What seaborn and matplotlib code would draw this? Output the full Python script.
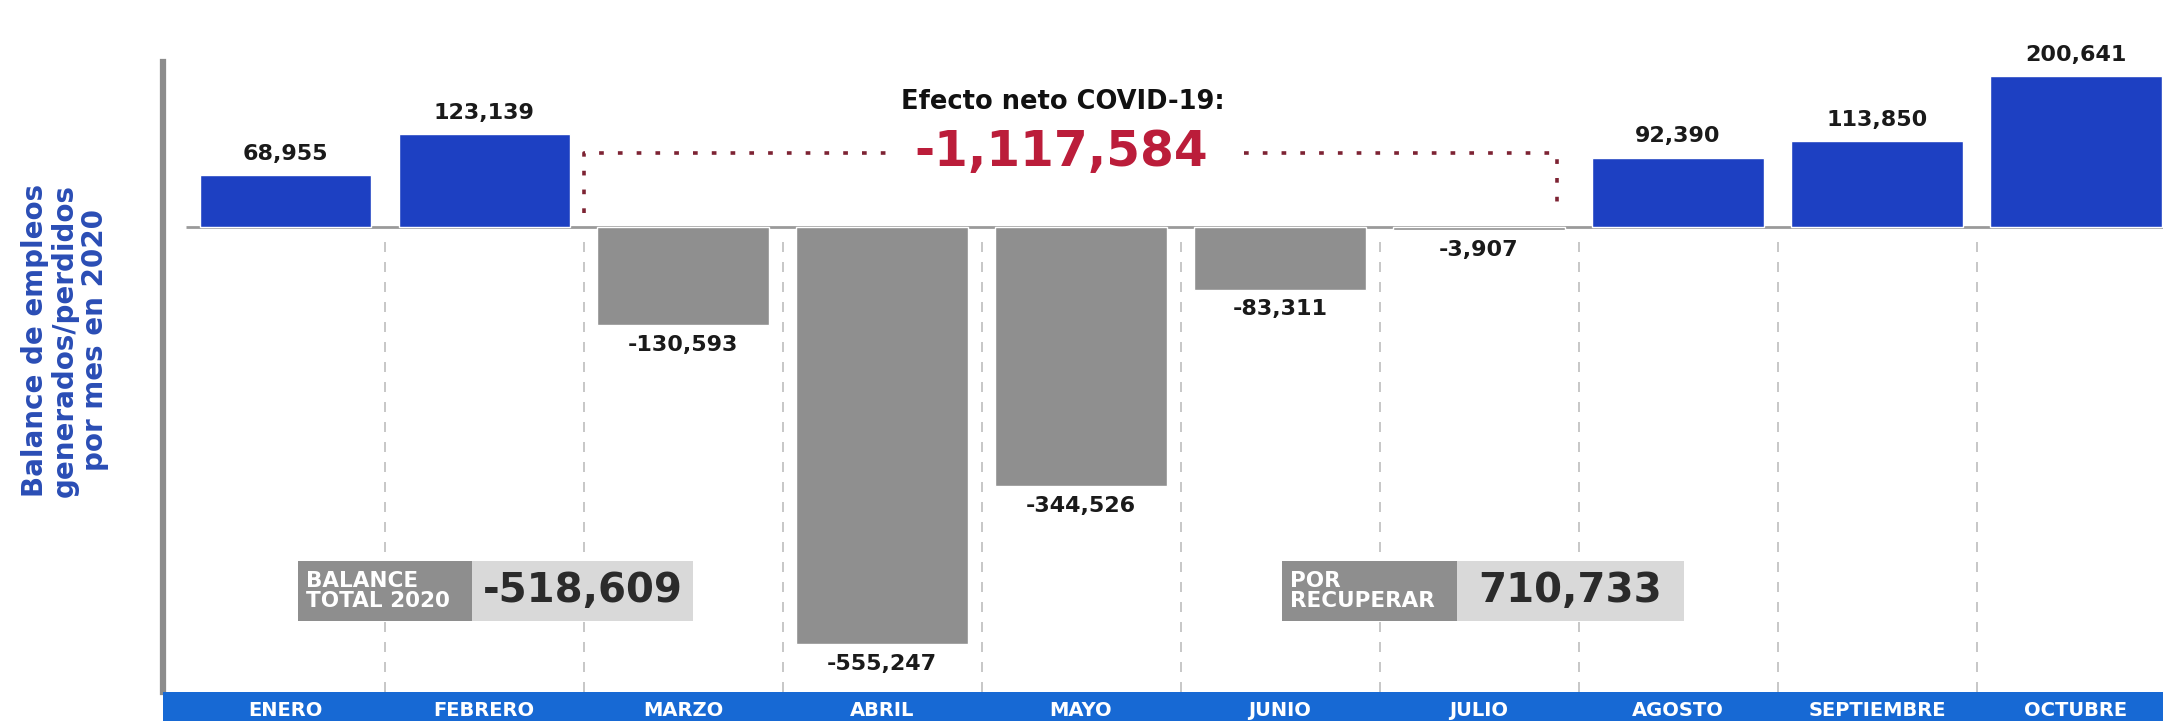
import numpy as np
import pandas as pd
import matplotlib
matplotlib.use('Agg')
import matplotlib.pyplot as plt
import matplotlib.transforms as mtransforms
from matplotlib.patches import Rectangle
import seaborn as sns

# datos: balance mensual de empleos 2020
months = ['ENERO', 'FEBRERO', 'MARZO', 'ABRIL', 'MAYO', 'JUNIO',
          'JULIO', 'AGOSTO', 'SEPTIEMBRE', 'OCTUBRE']
values = [68955, 123139, -130593, -555247, -344526, -83311,
          -3907, 92390, 113850, 200641]
net_covid = -1117584
balance_total = -518609
por_recuperar = 710733

blue = '#1d40c2'
gray = '#8f8f8f'
band_blue = '#1769d4'
box_dark = '#8e8e8e'
box_light = '#d9d9d9'

df = pd.DataFrame({'mes': months, 'empleos': values})
colors = [blue if v > 0 else gray for v in values]

sns.set_style('white')
plt.rcParams['font.family'] = ['DejaVu Sans']

fig = plt.figure(figsize=(21.63, 7.21), dpi=100)
ax = fig.add_axes([0.0754, 0.0402, 0.9246, 0.9598])

sns.barplot(data=df, x='mes', y='empleos', hue='mes', palette=colors,
            legend=False, width=0.86, saturation=1, ax=ax, zorder=3)

ax.set_xlim(-0.613, 9.437)
ax.set_ylim(-618450, 301900)
ax.set_xticks([])
ax.set_yticks([])
ax.set_xlabel('')
ax.set_ylabel('')
for s in ['top', 'right', 'bottom']:
    ax.spines[s].set_visible(False)
ax.spines['left'].set_color('#8c8c8c')
ax.spines['left'].set_linewidth(4.5)
ax.spines['left'].set_bounds(-618450, 219000)

# linea cero y separadores
ax.hlines(0, -0.5, 9.437, color='#9a9a9a', lw=2, zorder=2)
bounds = np.arange(len(months) - 1) + 0.5
ax.vlines(bounds, -618450, -6000, color='#bdbdbd', lw=1.2,
          linestyles=(0, (6, 6)), zorder=1)

# etiquetas de valor
for i, v in enumerate(values):
    if v > 0:
        ax.annotate(f'{v:,}', (i, v), xytext=(0, 8), textcoords='offset points',
                    ha='center', va='bottom', fontsize=16, weight='bold', color='#1a1a1a')
    else:
        ax.annotate(f'{v:,}', (i, v), xytext=(0, -7), textcoords='offset points',
                    ha='center', va='top', fontsize=16, weight='bold', color='#1a1a1a')

# efecto neto covid
dot = dict(color='#7d2333', lw=2.6, linestyle=(0, (1.3, 3.9)), zorder=4)
ax.plot([1.5, 1.5, 3.075], [18600, 98400, 98400], **dot)
ax.plot([4.82, 6.39, 6.39], [98400, 98400, 18600], **dot)
ax.text(3.91, 166000, 'Efecto neto COVID-19:', ha='center', va='center',
        fontsize=18.5, weight='bold', color='#111111')
ax.text(3.9, 100000, f'{net_covid:,}', ha='center', va='center',
        fontsize=35, weight='bold', color='#bb1d3a')

# cajas de resumen
trans = mtransforms.blended_transform_factory(ax.transData, ax.transAxes)
for x0, xm, x1, lab, val in [(0.065, 0.94, 2.05, 'BALANCE\nTOTAL 2020', balance_total),
                              (5.01, 5.89, 7.03, 'POR\nRECUPERAR', por_recuperar)]:
    ax.add_patch(Rectangle((x0, 0.103), xm - x0, 0.086, transform=trans,
                           facecolor=box_dark, edgecolor='none', zorder=5))
    ax.add_patch(Rectangle((xm, 0.103), x1 - xm, 0.086, transform=trans,
                           facecolor=box_light, edgecolor='none', zorder=5))
    ax.text(x0 + 0.04, 0.146, lab, transform=trans, ha='left', va='center',
            fontsize=15.5, weight='bold', color='white', linespacing=0.95, zorder=6)
    ax.text((xm + x1) / 2, 0.146, f'{val:,}', transform=trans, ha='center',
            va='center', fontsize=29, weight='bold', color='#2b2b2b', zorder=6)

# titulo del eje y
fig.text(0.030, 0.528, 'Balance de empleos\ngenerados/perdidos\npor mes en 2020',
         rotation=90, ha='center', va='center', multialignment='center',
         fontsize=20, weight='bold', color='#2a4db5', linespacing=1.1)

# banda de meses
bax = fig.add_axes([0.0754, 0, 0.9246, 0.0402])
bax.set_xlim(ax.get_xlim())
bax.set_ylim(0, 1)
bax.set_facecolor(band_blue)
bax.set_xticks([])
bax.set_yticks([])
for s in bax.spines.values():
    s.set_visible(False)
for i, m in enumerate(months):
    bax.text(i, 0.36, m, ha='center', va='center', fontsize=14,
             weight='bold', color='white')

fig.savefig('out.png', dpi=100)
